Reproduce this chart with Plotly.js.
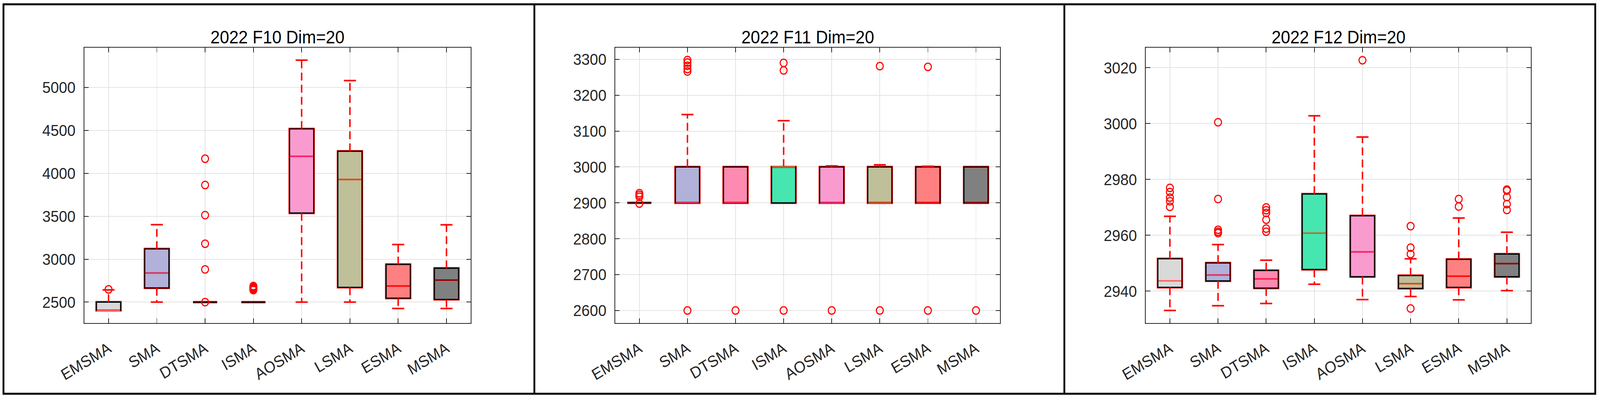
<!DOCTYPE html>
<html>
<head>
<meta charset="utf-8">
<script src="https://cdn.plot.ly/plotly-3.0.1.min.js"></script>
<style>
  html, body { margin: 0; padding: 0; background: #ffffff; overflow: hidden; }
  #chart { width: 4379px; height: 1024px; transform-origin: 0 0; }
</style>
</head>
<body>
<div id="chart"></div>
<script>
// ---------- data ----------
const methods = ['EMSMA', 'SMA', 'DTSMA', 'ISMA', 'AOSMA', 'LSMA', 'ESMA', 'MSMA'];
const titles = ['2022 F10 Dim=20', '2022 F11 Dim=20', '2022 F12 Dim=20'];

// F10
const f10_lo  = [2404, 2500, 2500, 2500, 2500, 2500, 2426, 2426];
const f10_q1  = [2404, 2666, 2500, 2500, 3538, 2672, 2546, 2531];
const f10_med = [2404, 2840, 2500, 2500, 4198, 3928, 2687, 2757];
const f10_q3  = [2500, 3119, 2500, 2500, 4518, 4257, 2938, 2894];
const f10_hi  = [2642, 3402, 2500, 2500, 5318, 5081, 3171, 3400];
const f10_out = [
  [2648],
  [],
  [4170, 3864, 3513, 3180, 2881, 2500],
  [2640, 2652, 2663, 2675, 2687],
  [], [], [], []
];

// F11
const f11_lo  = [2900, 2900, 2900, 2900, 2900, 2900, 2900, 2900];
const f11_q1  = [2900, 2900, 2900, 2900, 2900, 2900, 2900, 2900];
const f11_med = [2900, 2901, 2901, 3000, 2900, 2900, 2900, 2900];
const f11_q3  = [2900, 3000, 3000, 3000, 3000, 3000, 3000, 3000];
const f11_hi  = [2900, 3146, 3000, 3129, 3003, 3006, 3002, 3000];
const f11_out = [
  [2898, 2917, 2922, 2927],
  [3298, 3291, 3282, 3273, 3266, 2600],
  [2600],
  [3290, 3269, 2600],
  [2600],
  [3281, 2600],
  [3279, 2600],
  [2600]
];

// F12
const f12_lo  = [2933.1, 2934.8, 2935.6, 2942.5, 2937.0, 2938.1, 2936.9, 2940.2];
const f12_q1  = [2941.4, 2943.7, 2941.1, 2947.8, 2945.2, 2941.0, 2941.4, 2945.2];
const f12_med = [2943.7, 2945.8, 2944.4, 2960.8, 2954.1, 2942.7, 2945.4, 2949.9];
const f12_q3  = [2951.6, 2950.1, 2947.4, 2974.8, 2967.0, 2945.6, 2951.4, 2953.3];
const f12_hi  = [2966.8, 2956.7, 2951.1, 3002.8, 2995.2, 2951.6, 2966.2, 2961.1];
const f12_out = [
  [2977.0, 2975.5, 2973.5, 2972.2, 2970.2],
  [3000.5, 2973.0, 2962.0, 2961.3, 2960.8],
  [2970.0, 2969.0, 2968.0, 2965.6, 2962.4, 2961.3],
  [],
  [3022.7],
  [2963.3, 2955.6, 2953.3, 2933.8],
  [2973.0, 2970.3],
  [2976.4, 2976.0, 2973.7, 2971.2, 2969.1]
];

// ---------- style ----------
const fills = ['#d9d9d9', '#b1b1d9', '#fc8ab1', '#46e6b0', '#fa9bd0', '#bfbf99', '#ff8080', '#808080'];
const medColors = ['#ff6666', '#d9365e', '#ff1f4f', '#a97a3a', '#ff1f66', '#e0481a', '#ff0a0a', '#990000'];
const RED = '#ff0000';
const BOXW = 0.5, CAPW = 0.25;
const FONT = 'Liberation Sans, Arial, Helvetica, sans-serif';

const traces = [];

function addPanel(p, lo, q1, med, q3, hi, outs) {
  const xa = p === 1 ? 'x' : 'x' + p;
  const ya = p === 1 ? 'y' : 'y' + p;
  methods.forEach((m, i) => {
    const x = i + 1;
    // red outer edge
    traces.push({
      type: 'box', name: m, x: [x], q1: [q1[i]], median: [med[i]], q3: [q3[i]],
      lowerfence: [q1[i]], upperfence: [q3[i]], width: BOXW, whiskerwidth: 0,
      fillcolor: fills[i], line: { color: RED, width: 6 }, boxpoints: false,
      xaxis: xa, yaxis: ya, showlegend: false, hoverinfo: 'skip'
    });
    // black edge with fill
    traces.push({
      type: 'box', name: m, x: [x], q1: [q1[i]], median: [med[i]], q3: [q3[i]],
      lowerfence: [q1[i]], upperfence: [q3[i]], width: BOXW, whiskerwidth: 0,
      fillcolor: fills[i], line: { color: '#000000', width: 3 }, boxpoints: false,
      xaxis: xa, yaxis: ya, showlegend: false, hoverinfo: 'skip'
    });
    // whiskers (dashed) and caps
    if (hi[i] > q3[i]) {
      traces.push({ type: 'scatter', mode: 'lines', x: [x, x], y: [q3[i], hi[i]],
        line: { color: RED, width: 4, dash: '20px,11px' }, xaxis: xa, yaxis: ya, showlegend: false, hoverinfo: 'skip' });
      traces.push({ type: 'scatter', mode: 'lines', x: [x - CAPW / 2, x + CAPW / 2], y: [hi[i], hi[i]],
        line: { color: RED, width: 4 }, xaxis: xa, yaxis: ya, showlegend: false, hoverinfo: 'skip' });
    }
    if (lo[i] < q1[i]) {
      traces.push({ type: 'scatter', mode: 'lines', x: [x, x], y: [q1[i], lo[i]],
        line: { color: RED, width: 4, dash: '20px,11px' }, xaxis: xa, yaxis: ya, showlegend: false, hoverinfo: 'skip' });
      traces.push({ type: 'scatter', mode: 'lines', x: [x - CAPW / 2, x + CAPW / 2], y: [lo[i], lo[i]],
        line: { color: RED, width: 4 }, xaxis: xa, yaxis: ya, showlegend: false, hoverinfo: 'skip' });
    }
    // median
    if (q3[i] > q1[i]) {
      traces.push({ type: 'scatter', mode: 'lines', x: [x - BOXW / 2 + 0.01, x + BOXW / 2 - 0.01], y: [med[i], med[i]],
        line: { color: medColors[i], width: 4 }, xaxis: xa, yaxis: ya, showlegend: false, hoverinfo: 'skip' });
    }
    // outliers
    if (outs[i].length) {
      traces.push({ type: 'scatter', mode: 'markers', x: outs[i].map(() => x), y: outs[i],
        marker: { symbol: 'circle-open', size: 19, color: RED, line: { color: RED, width: 3 } },
        xaxis: xa, yaxis: ya, showlegend: false, hoverinfo: 'skip' });
    }
  });
}

addPanel(1, f10_lo, f10_q1, f10_med, f10_q3, f10_hi, f10_out);
addPanel(2, f11_lo, f11_q1, f11_med, f11_q3, f11_hi, f11_out);
addPanel(3, f12_lo, f12_q1, f12_med, f12_q3, f12_hi, f12_out);

// ---------- layout (designed on the reference's 4379 x 1024 canvas) ----------
const W = 4379, H = 1024;
const xDomains = [[231 / W, 1288 / W], [1684 / W, 2737 / W], [3136 / W, 4190 / W]];
const yDomain = [1 - 827 / H, 1 - 122 / H];
const yRanges = [[2256, 5464], [2565, 3332.5], [2928.6, 3027.2]];
const yDticks = [500, 100, 20];
const TICKFONT = { family: FONT, size: 41, color: '#262626' };

function xAxis(i) {
  return {
    domain: xDomains[i], anchor: i === 0 ? 'y' : 'y' + (i + 1),
    range: [0.5, 8.5], tickmode: 'array', tickvals: methods.map((m, k) => k + 1), ticktext: methods,
    tickangle: -30, showgrid: true, gridcolor: '#e3e3e3', gridwidth: 2, zeroline: false,
    showline: true, linecolor: '#262626', linewidth: 2, mirror: 'allticks',
    ticks: 'inside', ticklen: 12, tickwidth: 2, tickcolor: '#262626',
    tickfont: TICKFONT, ticklabelstandoff: 24,
    fixedrange: true
  };
}
function yAxis(i) {
  return {
    domain: yDomain, anchor: i === 0 ? 'x' : 'x' + (i + 1),
    range: yRanges[i], dtick: yDticks[i], tick0: 0, showgrid: true, gridcolor: '#e3e3e3', gridwidth: 2,
    zeroline: false, showline: true, linecolor: '#262626', linewidth: 2, mirror: 'allticks',
    ticks: 'inside', ticklen: 12, tickwidth: 2, tickcolor: '#262626',
    tickfont: TICKFONT, ticklabelstandoff: 14,
    fixedrange: true
  };
}

const annotations = titles.map((t, i) => ({
  text: t, xref: 'paper', yref: 'paper',
  x: (xDomains[i][0] + xDomains[i][1]) / 2, y: 1 - 95 / H,
  xanchor: 'center', yanchor: 'middle', showarrow: false,
  font: { family: FONT, size: 46, color: '#000000' }
}));

const frame = { type: 'line', xref: 'paper', yref: 'paper', line: { color: '#000000', width: 5 } };
const L = 9.5 / W, R = 4366 / W, T = 1 - 11 / H, B = 1 - 1008 / H;
const shapes = [
  { type: 'rect', xref: 'paper', yref: 'paper', x0: L, x1: R, y0: B, y1: T, line: { color: '#000000', width: 5 }, fillcolor: 'rgba(0,0,0,0)' },
  Object.assign({}, frame, { x0: 1462.5 / W, x1: 1462.5 / W, y0: B, y1: T }),
  Object.assign({}, frame, { x0: 2913 / W, x1: 2913 / W, y0: B, y1: T })
];

const layout = {
  width: W, height: H, margin: { l: 0, r: 0, t: 0, b: 0, autoexpand: false },
  paper_bgcolor: '#ffffff', plot_bgcolor: '#ffffff', showlegend: false,
  boxmode: 'overlay',
  xaxis: xAxis(0), yaxis: yAxis(0),
  xaxis2: xAxis(1), yaxis2: yAxis(1),
  xaxis3: xAxis(2), yaxis3: yAxis(2),
  annotations: annotations, shapes: shapes
};

// fit the reference-sized canvas into the actual browser window
const chartDiv = document.getElementById('chart');
const sx = (window.innerWidth || W) / W, sy = (window.innerHeight || H) / H;
chartDiv.style.transform = 'scale(' + sx + ',' + sy + ')';

Plotly.newPlot(chartDiv, traces, layout, { staticPlot: true, displayModeBar: false });
</script>
</body>
</html>
